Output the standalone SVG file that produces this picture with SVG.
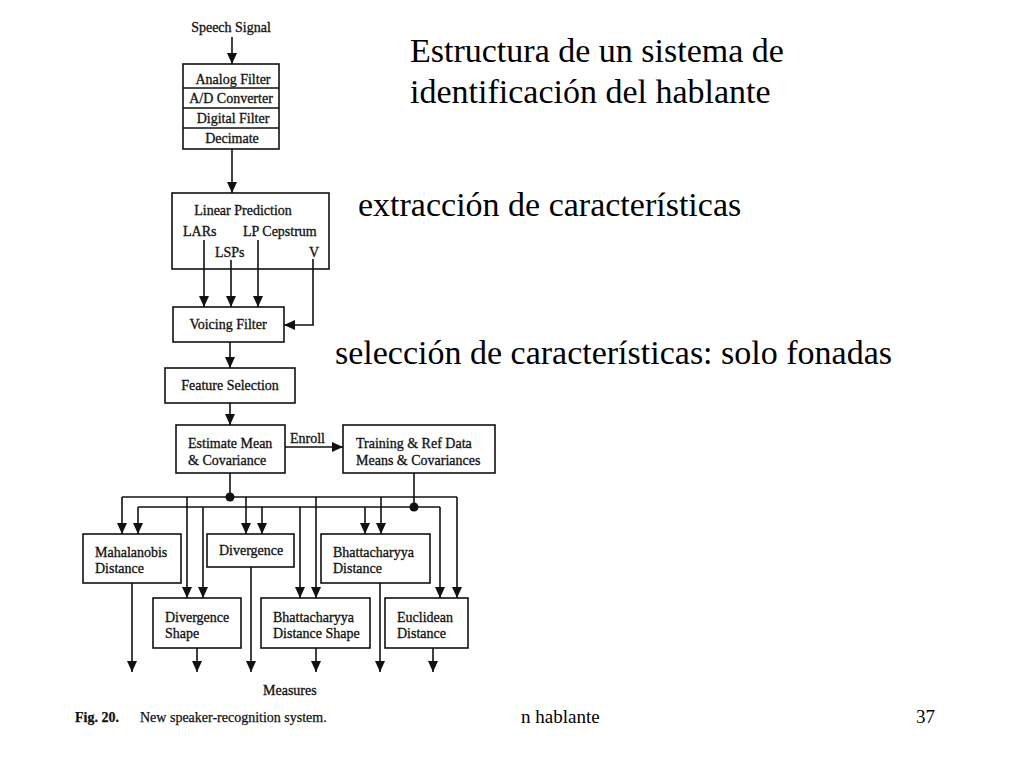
<svg xmlns="http://www.w3.org/2000/svg" width="1024" height="768" viewBox="0 0 1024 768">
<defs>
<marker id="ah" markerUnits="userSpaceOnUse" markerWidth="12" markerHeight="10" refX="11" refY="5" orient="auto">
<path d="M0,0 L11,5 L0,10 z" fill="#111"/>
</marker>
<style>
.box{fill:#fff;stroke:#111;stroke-width:1.6}
.ln{fill:none;stroke:#111;stroke-width:1.6}
.ar{fill:none;stroke:#111;stroke-width:1.6;marker-end:url(#ah)}
.t{font-size:14px;fill:#111;stroke:#111;stroke-width:0.3}
.c{text-anchor:middle}
.big{font-size:34px;fill:#000}
.foot{font-size:19px;fill:#000}
.cap{font-size:14px;fill:#111;stroke:#111;stroke-width:0.25}
</style>
</defs>
<rect width="1024" height="768" fill="#fff"/>

<g id="titles" font-family="Liberation Serif, Times New Roman, serif">
<text class="big" x="410" y="62">Estructura de un sistema de</text>
<text class="big" x="410" y="103">identificación del hablante</text>
<text class="big" x="358" y="216">extracción de características</text>
<text class="big" x="335" y="364">selección de características: solo fonadas</text>
<text class="foot" x="521" y="723">n hablante</text>
<text class="foot" x="916" y="723">37</text>
</g>

<g id="diagram" font-family="Liberation Serif, Times New Roman, serif">
<g id="input">
<text class="t c" x="231" y="32">Speech Signal</text>
</g>

<g id="preprocess">
<rect class="box" x="183" y="64" width="96" height="85"/>
<line class="ln" x1="183" y1="88" x2="279" y2="88"/>
<line class="ln" x1="183" y1="108" x2="279" y2="108"/>
<line class="ln" x1="183" y1="128" x2="279" y2="128"/>
<text class="t c" x="233" y="84">Analog Filter</text>
<text class="t c" x="231" y="103">A/D Converter</text>
<text class="t c" x="233" y="123">Digital Filter</text>
<text class="t c" x="232" y="143">Decimate</text>
</g>

<g id="linear-prediction">
<rect class="box" x="172" y="193" width="157" height="76"/>
<text class="t c" x="243" y="215">Linear Prediction</text>
<text class="t" x="183" y="236">LARs</text>
<text class="t" x="243" y="236">LP Cepstrum</text>
<text class="t" x="215" y="257">LSPs</text>
<text class="t" x="309" y="257">V</text>
</g>

<g id="voicing-filter">
<rect class="box" x="173" y="307" width="111" height="35"/>
<text class="t c" x="228" y="329">Voicing Filter</text>
</g>

<g id="feature-selection">
<rect class="box" x="165" y="368" width="130" height="35"/>
<text class="t c" x="230" y="390">Feature Selection</text>
</g>

<g id="estimate">
<rect class="box" x="176" y="425" width="109" height="48"/>
<text class="t" x="188" y="448">Estimate Mean</text>
<text class="t" x="188" y="465">&amp; Covariance</text>
</g>

<g id="training">
<rect class="box" x="343" y="425" width="152" height="48"/>
<text class="t" x="356" y="448">Training &amp; Ref Data</text>
<text class="t" x="356" y="465">Means &amp; Covariances</text>
</g>

<g id="mahalanobis">
<rect class="box" x="83" y="534" width="98" height="49"/>
<text class="t" x="95" y="557">Mahalanobis</text>
<text class="t" x="95" y="573">Distance</text>
</g>

<g id="divergence">
<rect class="box" x="207" y="534" width="87" height="33"/>
<text class="t" x="219" y="555">Divergence</text>
</g>

<g id="bhattacharyya">
<rect class="box" x="321" y="534" width="109" height="49"/>
<text class="t" x="333" y="557">Bhattacharyya</text>
<text class="t" x="333" y="573">Distance</text>
</g>

<g id="divergence-shape">
<rect class="box" x="153" y="598" width="88" height="50"/>
<text class="t" x="165" y="622">Divergence</text>
<text class="t" x="165" y="638">Shape</text>
</g>

<g id="bhattacharyya-shape">
<rect class="box" x="261" y="598" width="109" height="50"/>
<text class="t" x="273" y="622">Bhattacharyya</text>
<text class="t" x="273" y="638">Distance Shape</text>
</g>

<g id="euclidean">
<rect class="box" x="385" y="598" width="83" height="50"/>
<text class="t" x="397" y="622">Euclidean</text>
<text class="t" x="397" y="638">Distance</text>
</g>

<g id="measures">
<text class="t" x="263" y="695">Measures</text>
</g>

<g id="caption">
<text class="cap" x="75" y="722"><tspan font-weight="bold">Fig. 20.</tspan><tspan x="140">New speaker-recognition system.</tspan></text>
</g>

<g id="connectors">
<path class="ar" d="M232,37 V64"/>
<path class="ar" d="M232,149 V193"/>
<path class="ar" d="M204,240 V307"/>
<path class="ar" d="M231,260 V307"/>
<path class="ar" d="M258,240 V307"/>
<path class="ar" d="M313,259 V325 H284"/>
<path class="ar" d="M230,342 V368"/>
<path class="ar" d="M230,403 V425"/>
<path class="ar" d="M285,447 H343"/>
<text class="t" x="290" y="443">Enroll</text>
<path class="ln" d="M230,473 V497"/>
<path class="ln" d="M414,473 V507"/>
<circle cx="230" cy="497" r="4.5" fill="#111"/>
<circle cx="414" cy="507" r="4.5" fill="#111"/>
<path class="ar" d="M122,497 V534"/>
<path class="ln" d="M122,497 H457"/>
<path class="ar" d="M457,497 V598"/>
<path class="ar" d="M138,507 V534"/>
<path class="ln" d="M138,507 H440"/>
<path class="ar" d="M440,507 V598"/>
<path class="ar" d="M187,497 V598"/>
<path class="ar" d="M203,507 V598"/>
<path class="ar" d="M246,497 V534"/>
<path class="ar" d="M262,507 V534"/>
<path class="ar" d="M300,507 V598"/>
<path class="ar" d="M316,497 V598"/>
<path class="ar" d="M365,507 V534"/>
<path class="ar" d="M381,497 V534"/>
<path class="ar" d="M132,583 V672"/>
<path class="ar" d="M197,648 V672"/>
<path class="ar" d="M251,567 V672"/>
<path class="ar" d="M316,648 V672"/>
<path class="ar" d="M380,583 V672"/>
<path class="ar" d="M433,648 V672"/>
</g>
</g>
</svg>
